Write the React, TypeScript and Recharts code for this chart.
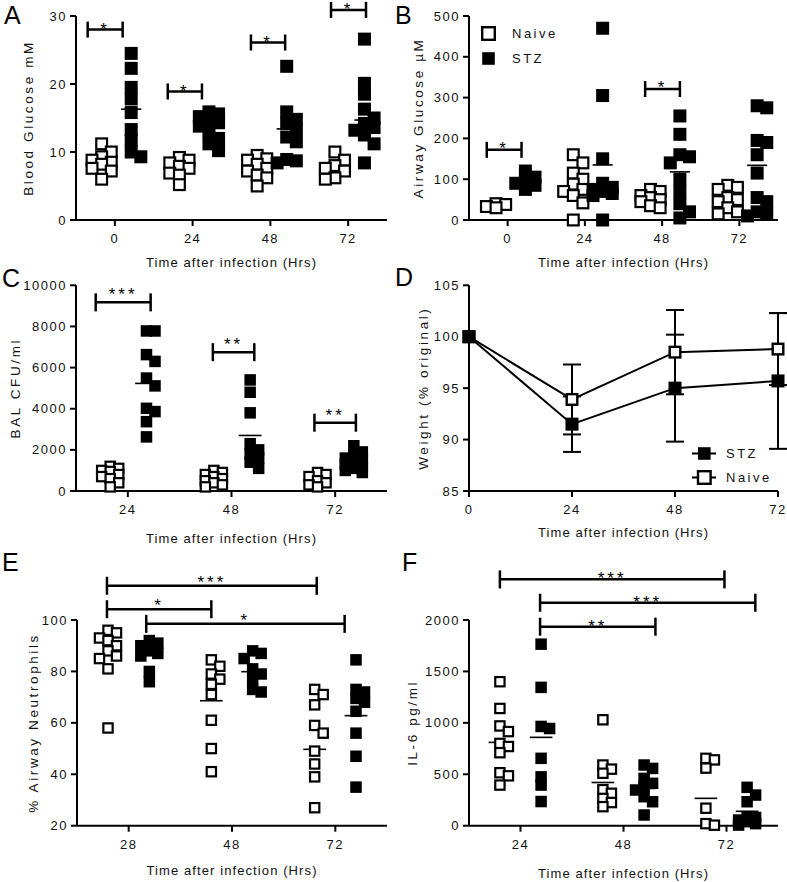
import {
  ScatterChart,
  Scatter,
  LineChart,
  Line,
  ErrorBar,
  XAxis,
  YAxis,
  ReferenceLine,
  Legend,
} from "recharts";

const FONT = '"Liberation Sans", Arial, sans-serif';

// A - blood glucose
const glucoseTimes = ["0", "24", "48", "72"];
const bloodNaive = [
  [11.2, 10.0, 9.3, 8.8, 8.5, 8.2, 7.6, 7.2, 6.0],
  [9.2, 8.8, 8.4, 7.9, 7.6, 6.9, 6.6, 5.2],
  [9.5, 9.0, 8.8, 8.2, 7.6, 7.2, 6.6, 6.2, 5.0],
  [10.0, 8.8, 8.0, 7.6, 7.2, 6.2, 6.0],
];
const bloodStz = [
  [24.5, 22.3, 19.5, 17.8, 15.8, 13.3, 11.7, 10.0, 9.3],
  [15.9, 15.6, 15.2, 14.8, 14.3, 13.8, 13.0, 12.0, 11.2, 10.2],
  [22.6, 15.9, 14.8, 14.2, 13.2, 12.2, 11.5, 8.9, 8.7, 8.4],
  [26.6, 20.1, 18.5, 16.3, 15.0, 14.2, 13.6, 13.2, 12.5, 11.2, 8.4],
];
const bloodNaiveMean = [8.7, 7.8, 7.5, 8.2];
const bloodStzMean = [16.3, 14.2, 13.4, 14.7];
const bloodSig = [
  { from: -0.35, to: 0.1, y: 28, stars: "*" },
  { from: 0.68, to: 1.12, y: 18.9, stars: "*" },
  { from: 1.75, to: 2.19, y: 26.1, stars: "*" },
  { from: 2.78, to: 3.23, y: 30.9, stars: "*" },
];

// B - airway glucose
const airwayNaive = [
  [40, 38, 33, 30],
  [160, 140, 115, 100, 88, 75, 70, 60, 42, 0],
  [75, 70, 60, 55, 50, 45, 35, 30],
  [85, 80, 75, 55, 50, 45, 30, 20, 15],
];
const airwayStz = [
  [120, 105, 95, 90, 85, 75],
  [470, 305, 150, 90, 80, 75, 70, 65, 60, 0],
  [255, 210, 160, 155, 140, 100, 70, 40, 20, 5],
  [280, 275, 195, 190, 160, 115, 55, 45, 20, 15, 10],
];
const airwayNaiveMean = [35, 78, 50, 50];
const airwayStzMean = [95, 135, 118, 134];
const airwaySig = [
  { from: -0.27, to: 0.18, y: 172, stars: "*" },
  { from: 1.78, to: 2.23, y: 321, stars: "*" },
];

// C - BAL CFU
const infTimes = ["24", "48", "72"];
const cfuNaive = [
  [1200, 1100, 1000, 950, 800, 700, 600, 400, 200],
  [1000, 900, 800, 700, 600, 500, 400, 300, 200],
  [900, 800, 700, 500, 400, 300, 200],
];
const cfuStz = [
  [7780, 7780, 6630, 6300, 5490, 5110, 4020, 3860, 3370, 2630],
  [5400, 4800, 3800, 2300, 2000, 1800, 1600, 1400, 1100],
  [2200, 1900, 1700, 1600, 1500, 1400, 1300, 1200, 1100, 1000, 900],
];
const cfuNaiveMean = [950, 600, 550];
const cfuStzMean = [5230, 2700, 1450];
const cfuSig = [
  { from: -0.31, to: 0.22, y: 9170, stars: "***" },
  { from: 0.82, to: 1.22, y: 6750, stars: "**" },
  { from: 1.8, to: 2.2, y: 3320, stars: "**" },
];

// D - weight
const weightHours = [0, 24, 48, 72];
const weightNaive = [100, 93.9, 98.5, 98.8];
const weightNaiveErr = [0, 3.4, 4.1, 3.5];
const weightStz = [100, 91.5, 95.0, 95.7];
const weightStzErr = [0, 2.7, 5.2, 6.6];

// E - airway neutrophils
const neutTimes = ["28", "48", "72"];
const neutNaive = [
  [96, 95, 93, 92, 90, 88, 86, 85, 81, 58],
  [84.5, 82, 79, 77, 75, 71, 61, 50, 41],
  [73, 71, 67, 59, 56, 49, 44, 39, 27],
];
const neutStz = [
  [92, 91, 90, 88, 87, 86, 80, 76],
  [88, 87, 85, 81, 79, 77, 73, 72],
  [84.5, 73, 72, 69.5, 68, 64.5, 56, 47, 35],
];
const neutNaiveMean = [86.7, 68.6, 49.7];
const neutStzMean = [86.9, 79.9, 62.8];
const neutSig = [
  { from: -0.21, to: 1.82, y: 113.3, stars: "***" },
  { from: -0.21, to: 0.8, y: 104.2, stars: "*" },
  { from: 0.17, to: 2.09, y: 98.5, stars: "*" },
];

// F - IL-6
const il6Naive = [
  [1400, 1140, 970, 915, 800, 770, 710, 515, 485, 395],
  [1030, 590, 550, 510, 350, 315, 265, 225, 185],
  [655, 640, 560, 170, 20, 5],
];
const il6Stz = [
  [1765, 1345, 965, 945, 655, 475, 395, 235],
  [590, 557, 460, 412, 380, 347, 282, 233, 104],
  [373, 298, 233, 88, 80, 55, 39, 20, 6],
];
const il6NaiveMean = [810, 420, 266];
const il6StzMean = [859, 363, 140];
const il6Sig = [
  { from: -0.2, to: 1.98, y: 2395, stars: "***" },
  { from: 0.19, to: 2.28, y: 2168, stars: "***" },
  { from: 0.19, to: 1.31, y: 1935, stars: "**" },
];

type Sig = { from: number; to: number; y: number; stars: string };

// spread points sideways a little, GraphPad style; crowded points are allowed to overlap
function swarm(values: number[], center: number, ppy: number, upp: number, size: number) {
  const placed: { px: number; py: number }[] = [];
  const out: { x: number; y: number }[] = [];
  const order = values.map((v, i) => ({ v, i })).sort((a, b) => b.v - a.v);
  const step = size * 0.37;
  const gap = size * 0.7;
  const cands = [0, step, -step, 2 * step, -2 * step];
  for (const { v, i } of order) {
    const py = v * ppy;
    let best = 0;
    let bestScore = Infinity;
    for (const c of cands) {
      let score = 0;
      for (const p of placed) {
        const dx = Math.abs(p.px - c);
        const dy = Math.abs(p.py - py);
        if (dx < gap && dy < gap) score += (gap - dx) * (gap - dy);
      }
      if (score < bestScore - 0.01) {
        bestScore = score;
        best = c;
      }
      if (score === 0) break;
    }
    placed.push({ px: best, py });
    out[i] = { x: center + best * upp, y: v };
  }
  return out;
}

const square = (size: number, filled: boolean) => (p: any) => {
  const sw = filled ? 0 : 2.2;
  const s = size - sw;
  return (
    <rect
      x={p.cx - s / 2}
      y={p.cy - s / 2}
      width={s}
      height={s}
      fill={filled ? "#000" : "#fff"}
      stroke="#000"
      strokeWidth={sw}
    />
  );
};

const tickStyle = { fill: "#111", fontSize: 13, letterSpacing: 1.5, fontFamily: FONT };
const axisLine = { stroke: "#000", strokeWidth: 2 };
const titleStyle = { fill: "#111", fontSize: 13, letterSpacing: 1.1, fontFamily: FONT };
const yTitleStyle = { fill: "#111", fontSize: 13.5, letterSpacing: 2.6, fontFamily: FONT };

const LegendIcon = ({ filled, line }: { filled: boolean; line?: boolean }) => (
  <svg width={line ? 24 : 15} height={15} style={{ verticalAlign: "middle" }}>
    {line && <line x1={0} y1={7.5} x2={24} y2={7.5} stroke="#000" strokeWidth={2} />}
    <rect
      x={line ? 6 : 1.2}
      y={1.2}
      width={12.6}
      height={12.6}
      fill={filled ? "#000" : "#fff"}
      stroke="#000"
      strokeWidth={filled ? 0 : 2.4}
    />
  </svg>
);

const legendText = { fontFamily: FONT, fontSize: 13, letterSpacing: 2.5, color: "#111" };

type PanelProps = {
  left: number;
  top: number;
  width: number;
  height: number;
  marginTop: number;
  marginRight: number;
  yAxisWidth: number;
  xAxisHeight: number;
  groups: string[];
  naive: number[][];
  stz: number[][];
  naiveMean: number[];
  stzMean: number[];
  sig: Sig[];
  yDomain: [number, number];
  yTicks: number[];
  yLabel: string;
  yLabelX: number;
  titleOffset: number;
  size: number;
  naiveOff: number;
  stzOff: number;
  meanHalf: number;
  capPx: number;
  starDy: number;
  showLegend?: boolean;
};

function DotPanel(p: PanelProps) {
  const n = p.groups.length;
  const plotW = p.width - p.yAxisWidth - p.marginRight;
  const plotH = p.height - p.marginTop - p.xAxisHeight;
  const upp = n / plotW;
  const ppy = plotH / (p.yDomain[1] - p.yDomain[0]);
  const cap = p.capPx / ppy;
  const naivePts = p.naive.flatMap((vals, g) => swarm(vals, g + p.naiveOff, ppy, upp, p.size));
  const stzPts = p.stz.flatMap((vals, g) => swarm(vals, g + p.stzOff, ppy, upp, p.size));

  const means = [
    ...p.naiveMean.map((m, g) => ({ x: g + p.naiveOff, m })),
    ...p.stzMean.map((m, g) => ({ x: g + p.stzOff, m })),
  ];

  return (
    <div style={{ position: "absolute", left: p.left, top: p.top }}>
      <ScatterChart
        width={p.width}
        height={p.height}
        margin={{ top: p.marginTop, right: p.marginRight, bottom: 0, left: 0 }}
      >
        <XAxis
          type="number"
          dataKey="x"
          domain={[-0.5, n - 0.5]}
          ticks={p.groups.map((_, i) => i)}
          tickFormatter={(i: number) => p.groups[i]}
          height={p.xAxisHeight}
          axisLine={axisLine}
          tickLine={axisLine}
          tickSize={6}
          tickMargin={8}
          tick={tickStyle}
          label={{
            value: "Time after infection (Hrs)",
            position: "insideBottom",
            offset: p.titleOffset,
            ...titleStyle,
          }}
        />
        <YAxis
          type="number"
          dataKey="y"
          domain={p.yDomain}
          ticks={p.yTicks}
          width={p.yAxisWidth}
          axisLine={axisLine}
          tickLine={axisLine}
          tickSize={6}
          tickMargin={3}
          tick={tickStyle}
          label={{
            value: p.yLabel,
            angle: -90,
            position: "insideLeft",
            offset: p.yLabelX,
            style: { textAnchor: "middle" },
            ...yTitleStyle,
          }}
        />
        <Scatter name="Naive" data={naivePts} shape={square(p.size, false)} isAnimationActive={false} />
        <Scatter name="STZ" data={stzPts} shape={square(p.size, true)} isAnimationActive={false} />
        {means.map((d, i) => (
          <ReferenceLine
            key={`m${i}`}
            segment={[
              { x: d.x - p.meanHalf, y: d.m },
              { x: d.x + p.meanHalf, y: d.m },
            ]}
            stroke="#000"
            strokeWidth={1.6}
            ifOverflow="visible"
          />
        ))}
        {p.sig.flatMap((b, i) => [
          <ReferenceLine
            key={`s${i}`}
            segment={[
              { x: b.from, y: b.y },
              { x: b.to, y: b.y },
            ]}
            stroke="#000"
            strokeWidth={2.5}
            ifOverflow="visible"
            label={{
              value: b.stars,
              position: "center",
              dy: p.starDy,
              fill: "#000",
              fontSize: 17,
              letterSpacing: 3,
              fontFamily: FONT,
            }}
          />,
          <ReferenceLine
            key={`l${i}`}
            segment={[
              { x: b.from, y: b.y - cap },
              { x: b.from, y: b.y + cap },
            ]}
            stroke="#000"
            strokeWidth={2.5}
            ifOverflow="visible"
          />,
          <ReferenceLine
            key={`r${i}`}
            segment={[
              { x: b.to, y: b.y - cap },
              { x: b.to, y: b.y + cap },
            ]}
            stroke="#000"
            strokeWidth={2.5}
            ifOverflow="visible"
          />,
        ])}
        {p.showLegend && (
          <Legend
            layout="vertical"
            verticalAlign="middle"
            align="center"
            wrapperStyle={{ left: 91, top: 21, width: "auto" }}
            content={() => (
              <div style={{ lineHeight: "24px" }}>
                <div>
                  <LegendIcon filled={false} />
                  <span style={{ ...legendText, marginLeft: 16 }}>Naive</span>
                </div>
                <div>
                  <LegendIcon filled />
                  <span style={{ ...legendText, marginLeft: 16 }}>STZ</span>
                </div>
              </div>
            )}
          />
        )}
      </ScatterChart>
    </div>
  );
}

const weightDot = (filled: boolean) => (p: any) => {
  const sw = filled ? 0 : 2.4;
  const s = 13 - sw;
  return (
    <rect
      key={`${filled ? "f" : "o"}${p.index}`}
      x={p.cx - s / 2}
      y={p.cy - s / 2}
      width={s}
      height={s}
      fill={filled ? "#000" : "#fff"}
      stroke="#000"
      strokeWidth={sw}
    />
  );
};

function WeightPanel() {
  const data = weightHours.map((h, i) => ({
    h,
    naive: weightNaive[i],
    naiveErr: weightNaiveErr[i],
    stz: weightStz[i],
    stzErr: weightStzErr[i],
  }));
  return (
    <div style={{ position: "absolute", left: 390, top: 270 }}>
      <LineChart width={397} height={280} data={data} margin={{ top: 15.3, right: 9, bottom: 0, left: 0 }}>
        <XAxis
          type="number"
          dataKey="h"
          domain={[0, 72]}
          ticks={weightHours}
          height={59}
          axisLine={axisLine}
          tickLine={axisLine}
          tickSize={6}
          tickMargin={8}
          tick={tickStyle}
          label={{
            value: "Time after infection (Hrs)",
            position: "insideBottom",
            offset: 13.5,
            ...titleStyle,
          }}
        />
        <YAxis
          type="number"
          domain={[85, 105]}
          ticks={[85, 90, 95, 100, 105]}
          width={79}
          axisLine={axisLine}
          tickLine={axisLine}
          tickSize={6}
          tickMargin={3}
          tick={tickStyle}
          label={{
            value: "Weight (% original)",
            angle: -90,
            position: "insideLeft",
            offset: 33,
            style: { textAnchor: "middle" },
            ...yTitleStyle,
          }}
        />
        <Line
          dataKey="naive"
          stroke="#000"
          strokeWidth={2}
          dot={weightDot(false)}
          isAnimationActive={false}
        >
          <ErrorBar dataKey="naiveErr" width={9} stroke="#000" strokeWidth={2} direction="y" />
        </Line>
        <Line
          dataKey="stz"
          stroke="#000"
          strokeWidth={2}
          dot={weightDot(true)}
          isAnimationActive={false}
        >
          <ErrorBar dataKey="stzErr" width={9} stroke="#000" strokeWidth={2} direction="y" />
        </Line>
        <Legend
          layout="vertical"
          verticalAlign="middle"
          align="center"
          wrapperStyle={{ left: 302, top: 171, width: "auto" }}
          content={() => (
            <div style={{ lineHeight: "23px" }}>
              <div>
                <LegendIcon filled line />
                <span style={{ ...legendText, marginLeft: 10 }}>STZ</span>
              </div>
              <div>
                <LegendIcon filled={false} line />
                <span style={{ ...legendText, marginLeft: 10 }}>Naive</span>
              </div>
            </div>
          )}
        />
      </LineChart>
    </div>
  );
}

const letters = [
  { t: "A", x: 4, y: 24 },
  { t: "B", x: 395, y: 24 },
  { t: "C", x: 2, y: 287 },
  { t: "D", x: 395, y: 286 },
  { t: "E", x: 2, y: 571 },
  { t: "F", x: 402, y: 571 },
];

export default function App() {
  return (
    <div
      style={{
        position: "absolute",
        left: 0,
        top: 0,
        width: 787,
        height: 882,
        background: "#fff",
        fontFamily: FONT,
        overflow: "hidden",
      }}
    >
      <DotPanel
        left={0}
        top={0}
        width={390}
        height={270}
        marginTop={16}
        marginRight={3}
        yAxisWidth={76}
        xAxisHeight={50}
        groups={glucoseTimes}
        naive={bloodNaive}
        stz={bloodStz}
        naiveMean={bloodNaiveMean}
        stzMean={bloodStzMean}
        sig={bloodSig}
        yDomain={[0, 30]}
        yTicks={[0, 10, 20, 30]}
        yLabel="Blood Glucose mM"
        yLabelX={28}
        titleOffset={3.5}
        size={13}
        naiveOff={-0.17}
        stzOff={0.21}
        meanHalf={0.13}
        capPx={8}
        starDy={-1}
      />
      <DotPanel
        left={390}
        top={0}
        width={397}
        height={270}
        marginTop={16}
        marginRight={9}
        yAxisWidth={79}
        xAxisHeight={50}
        groups={glucoseTimes}
        naive={airwayNaive}
        stz={airwayStz}
        naiveMean={airwayNaiveMean}
        stzMean={airwayStzMean}
        sig={airwaySig}
        yDomain={[0, 500]}
        yTicks={[0, 100, 200, 300, 400, 500]}
        yLabel="Airway Glucose µM"
        yLabelX={28}
        titleOffset={3.5}
        size={13}
        naiveOff={-0.15}
        stzOff={0.23}
        meanHalf={0.13}
        capPx={8}
        starDy={-2}
        showLegend
      />
      <DotPanel
        left={0}
        top={270}
        width={390}
        height={280}
        marginTop={15.3}
        marginRight={3}
        yAxisWidth={76}
        xAxisHeight={59}
        groups={infTimes}
        naive={cfuNaive}
        stz={cfuStz}
        naiveMean={cfuNaiveMean}
        stzMean={cfuStzMean}
        sig={cfuSig}
        yDomain={[0, 10000]}
        yTicks={[0, 2000, 4000, 6000, 8000, 10000]}
        yLabel="BAL CFU/ml"
        yLabelX={15}
        titleOffset={7.5}
        size={11.5}
        naiveOff={-0.17}
        stzOff={0.18}
        meanHalf={0.11}
        capPx={9}
        starDy={-8}
      />
      <WeightPanel />
      <DotPanel
        left={0}
        top={530}
        width={390}
        height={352}
        marginTop={90}
        marginRight={3}
        yAxisWidth={77}
        xAxisHeight={56.3}
        groups={neutTimes}
        naive={neutNaive}
        stz={neutStz}
        naiveMean={neutNaiveMean}
        stzMean={neutStzMean}
        sig={neutSig}
        yDomain={[20, 100]}
        yTicks={[20, 40, 60, 80, 100]}
        yLabel="% Airway Neutrophils"
        yLabelX={33}
        titleOffset={7.5}
        size={11.5}
        naiveOff={-0.2}
        stzOff={0.2}
        meanHalf={0.11}
        capPx={9}
        starDy={-4}
      />
      <DotPanel
        left={390}
        top={530}
        width={397}
        height={352}
        marginTop={90}
        marginRight={9}
        yAxisWidth={79}
        xAxisHeight={56.3}
        groups={infTimes}
        naive={il6Naive}
        stz={il6Stz}
        naiveMean={il6NaiveMean}
        stzMean={il6StzMean}
        sig={il6Sig}
        yDomain={[0, 2000]}
        yTicks={[0, 500, 1000, 1500, 2000]}
        yLabel="IL-6 pg/ml"
        yLabelX={22}
        titleOffset={4.5}
        size={11.5}
        naiveOff={-0.2}
        stzOff={0.2}
        meanHalf={0.11}
        capPx={9}
        starDy={-1}
      />
      <svg
        width={787}
        height={882}
        style={{ position: "absolute", left: 0, top: 0, pointerEvents: "none" }}
      >
        {letters.map((l) => (
          <text key={l.t} x={l.x} y={l.y} fontSize={25} fontFamily={FONT} fill="#000">
            {l.t}
          </text>
        ))}
      </svg>
    </div>
  );
}
